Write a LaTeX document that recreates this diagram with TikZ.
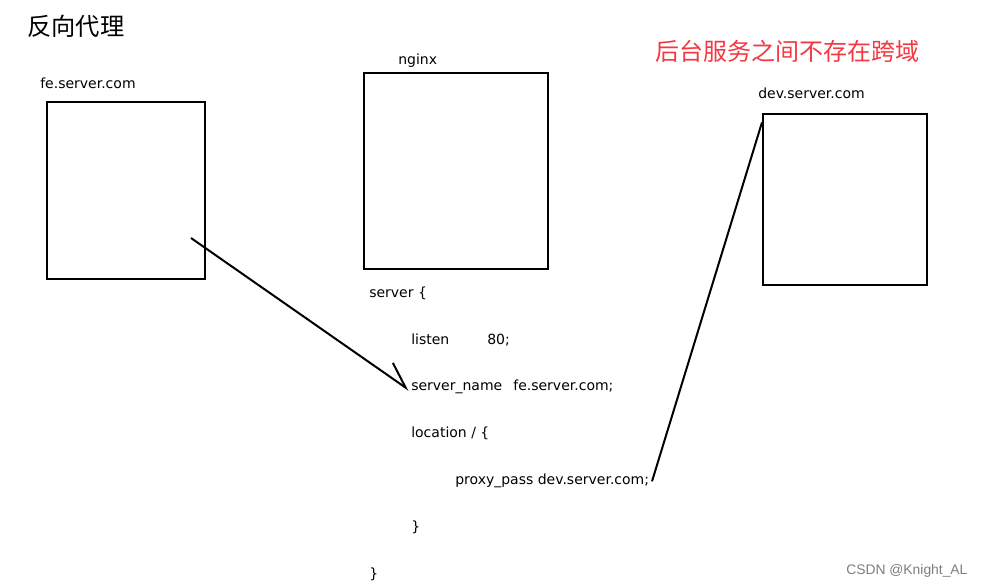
\documentclass[tikz,border=0pt]{standalone}
\usepackage{fontspec}
\setmainfont{DejaVu Sans}
\newfontfamily\cjk{Noto Sans CJK SC}
\newfontfamily\wmfont{Liberation Sans}
\usetikzlibrary{arrows.meta}
\definecolor{notered}{RGB}{245,55,65}
\definecolor{wmgray}{RGB}{125,125,125}

\begin{document}
\begin{tikzpicture}[x=0.75pt, y=-0.75pt,
		box/.style={draw, line width=1.5pt, inner sep=0pt},
		txt/.style={anchor=base west, inner sep=0pt, font=\fontsize{10.5}{12}\selectfont},
		wire/.style={line width=1.5pt}]
		\useasboundingbox (0, 0) rectangle (982, 587);
		\node [txt, font=\cjk\fontsize{18.2}{20}\selectfont] (title) at (27, 35) {反向代理};
		\node [txt, font=\cjk\fontsize{18}{20}\selectfont, text=notered] (note) at (655, 60.5) {后台服务之间不存在跨域};
		% the three machines
		\node [box, minimum width=118.5pt, minimum height=132.75pt] (fe) at (126, 190.5) {};
		\node [box, minimum width=138pt, minimum height=147pt] (nginx) at (456, 171) {};
		\node [box, minimum width=123pt, minimum height=128.25pt] (dev) at (845, 199.5) {};
		\node [txt] (fe-name) at (40, 88) {fe.server.com};
		\node [txt] (nginx-name) at (398, 64) {nginx};
		\node [txt] (dev-name) at (758, 98) {dev.server.com};
		% nginx config
		\node [txt] (open) at (369, 297) {server \{};
		\node [txt] (listen) at (411, 344) {listen\hspace{28.5pt}80;};
		\node [txt] (sname) at (411, 390) {server\_name\hspace{8.3pt}fe.server.com;};
		\node [txt] (loc) at (411, 437) {location / \{};
		\node [txt] (proxy) at (455, 484) {proxy\_pass dev.server.com;};
		\node [txt] (loc-end) at (411, 531) {\}};
		\node [txt] (close) at (369, 578) {\}};
		\coordinate (fe-src) at (191, 238);
		\draw [wire, -{Straight Barb[left, length=18.5pt, width=19.5pt]}] (fe-src) -- ([xshift=-1.5pt]sname.base west);
		\draw [wire] ([xshift=2pt, yshift=2pt]proxy.base east) -- ([yshift=-7pt]dev.north west);
		\node [txt, font=\wmfont\fontsize{10.4}{12}\selectfont, text=wmgray] (mark) at (846, 574) {CSDN @Knight\_AL};
	\end{tikzpicture}
\end{document}
